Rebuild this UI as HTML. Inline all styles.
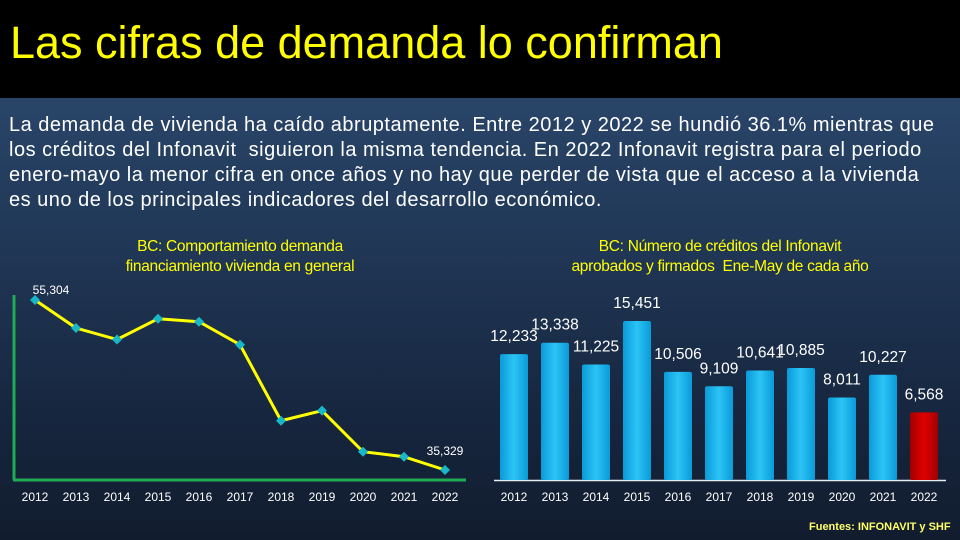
<!DOCTYPE html>
<html><head><meta charset="utf-8">
<style>
body{margin:0;width:960px;height:540px;overflow:hidden;font-family:"Liberation Sans",sans-serif;}
#bg{position:absolute;left:0;top:0;width:960px;height:540px;background:linear-gradient(#2f4e74 0%,#223a5a 40%,#172740 75%,#111c2e 100%);}
#band{position:absolute;left:0;top:0;width:960px;height:98px;background:#000;}
#title{position:absolute;left:10px;top:17px;font-size:45px;color:#ffff00;white-space:nowrap;}
#para{position:absolute;left:9px;top:113px;width:955px;font-size:20px;letter-spacing:0.5px;line-height:25px;color:#fff;white-space:nowrap;}
.ct{position:absolute;color:#ffff00;font-size:15.5px;text-align:center;line-height:20px;letter-spacing:-0.3px;}
#src{position:absolute;left:809px;top:521px;color:#ffff66;font-size:11px;font-weight:bold;}
svg{position:absolute;left:0;top:0;}
</style></head><body>
<div id="bg"></div>
<div id="band"></div>
<div id="title">Las cifras de demanda lo confirman</div>
<div id="para">La demanda de vivienda ha caído abruptamente. Entre 2012 y 2022 se hundió 36.1% mientras que<br>los créditos del Infonavit&nbsp; siguieron la misma tendencia. En 2022 Infonavit registra para el periodo<br>enero-mayo la menor cifra en once años y no hay que perder de vista que el acceso a la vivienda<br>es uno de los principales indicadores del desarrollo económico.</div>
<div class="ct" style="left:60px;top:237px;width:360px">BC: Comportamiento demanda<br>financiamiento vivienda en general</div>
<div class="ct" style="left:510px;top:237px;width:420px">BC: Número de créditos del Infonavit<br>aprobados y firmados&nbsp; Ene-May de cada año</div>
<div id="src">Fuentes: INFONAVIT y SHF</div>
<svg id="chart" width="960" height="540">
<defs>
<linearGradient id="gb" x1="0" x2="1"><stop offset="0" stop-color="#0a9ad8"/><stop offset="0.5" stop-color="#2cc4f6"/><stop offset="1" stop-color="#0a9ad8"/></linearGradient>
<linearGradient id="gr" x1="0" x2="1"><stop offset="0" stop-color="#a00000"/><stop offset="0.5" stop-color="#e00000"/><stop offset="1" stop-color="#a00000"/></linearGradient>
</defs>
</svg>
<script>
const years=["2012","2013","2014","2015","2016","2017","2018","2019","2020","2021","2022"];
const demand=[55304,52010,50660,53100,52750,50050,41120,42300,37480,36890,35329];
const demandLabels=["55,304","","","","","","","","","","35,329"];
const credits=[12233,13338,11225,15451,10506,9109,10641,10885,8011,10227,6568];
const creditLabels=["12,233","13,338","11,225","15,451","10,506","9,109","10,641","10,885","8,011","10,227","6,568"];
const NS="http://www.w3.org/2000/svg";
const svg=document.getElementById('chart');
function mk(t,a){const e=document.createElementNS(NS,t);for(const k in a)e.setAttribute(k,a[k]);svg.appendChild(e);return e;}
const lx=i=>35+i*41;
const ly=v=>300+(55304-v)*170/19975;
let e=mk('line',{x1:14,y1:295,x2:14,y2:480,stroke:'#1faa55','stroke-width':3});


e=mk('line',{x1:13,y1:480,x2:466,y2:480,stroke:'#1faa55','stroke-width':3});


e=mk('polyline',{points:demand.map((v,i)=>lx(i)+','+ly(v)).join(' '),fill:'none',stroke:'#ffff00','stroke-width':3});


demand.forEach((v,i)=>{
 const x=lx(i),y=ly(v);
 const p=mk('polygon',{points:`${x},${y-5} ${x+5},${y} ${x},${y+5} ${x-5},${y}`,fill:'#19b8c8'});
 
 
 if(demandLabels[i]){const t=mk('text',{x:x+(i==0?16:0),y:y-(i==0?6:15),fill:'#fff','font-size':12,'text-anchor':'middle'});t.textContent=demandLabels[i];
 
 }
 const t=mk('text',{x:x,y:501,fill:'#fff','font-size':12,'text-anchor':'middle'});t.textContent=years[i];
 
 
});
const bx=i=>514+i*41;
const bh=v=>v*159/15451;
e=mk('line',{x1:494,y1:480.5,x2:946,y2:480.5,stroke:'#e6eef6','stroke-width':1.5});


credits.forEach((v,i)=>{
 const x=bx(i),h=bh(v),last=i==credits.length-1;
 const r=mk('rect',{x:x-14,y:480-h,width:28,height:h,fill:last?'url(#gr)':'url(#gb)',rx:2});
 
 
 const t=mk('text',{x:x,y:480-h-13,fill:'#fff','font-size':15.5,'text-anchor':'middle'});t.textContent=creditLabels[i];
 
 
 const y=mk('text',{x:x,y:501,fill:'#fff','font-size':12,'text-anchor':'middle'});y.textContent=years[i];
 
 
});
</script>
</body></html>
